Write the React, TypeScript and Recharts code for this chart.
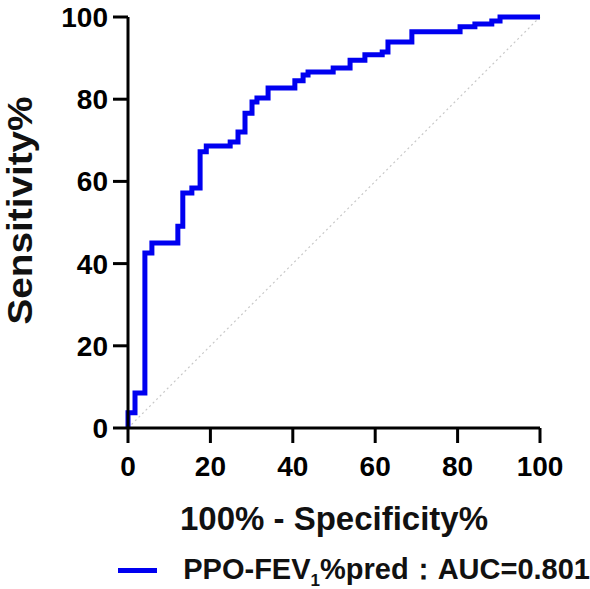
import React from 'react';
import { LineChart, Line, XAxis, YAxis, ReferenceLine, Legend } from 'recharts';

// ROC curve points: 100% - specificity (x) and sensitivity (y)
const fpr = [0, 0, 1.7, 4.1, 5.8, 12.1, 13.3, 15.5, 17.5, 19.0, 24.8, 26.7, 28.4, 30.1, 31.3, 34.0, 40.5, 42.5, 43.7, 49.8, 53.9, 57.5, 61.7, 63.1, 68.9, 80.6, 84.2, 88.3, 90.3, 100];
const tpr = [0, 3.7, 8.5, 42.6, 45.0, 49.1, 57.2, 58.4, 67.2, 68.6, 69.6, 72.0, 76.6, 79.3, 80.3, 82.7, 84.5, 85.9, 86.6, 87.6, 89.5, 90.8, 91.5, 93.9, 96.4, 97.6, 98.3, 99.0, 100, 100];
const axisTicks = [0, 20, 40, 60, 80, 100];
const seriesName = 'PPO-FEV1%pred';
const auc = '0.801';

const rocData = fpr.map((x, i) => ({ fpr: x, tpr: tpr[i] }));

const FONT = '"Liberation Sans", Arial, sans-serif';
const BLUE = '#0000f0';

const tickStyle = { fontSize: 28, fontWeight: 700, fill: '#000', fontFamily: FONT };

function LegendContent() {
  return (
    <div style={{ display: 'flex', alignItems: 'center', fontFamily: FONT, fontWeight: 700, fontSize: 29, color: '#111', whiteSpace: 'nowrap' }}>
      <span style={{ display: 'inline-block', width: 42, height: 5, background: BLUE, marginRight: 26 }} />
      <span>
        PPO-FEV<sub style={{ fontSize: 17 }}>1</sub>%pred：AUC={auc}
      </span>
    </div>
  );
}

export default function App() {
  return (
    <div style={{ position: 'absolute', left: 0, top: 0, width: 590, height: 589, background: '#fff', overflow: 'hidden' }}>
      <LineChart width={590} height={589} data={rocData} margin={{ top: 17, right: 50, left: 0, bottom: 0 }}>
        <XAxis
          dataKey="fpr"
          type="number"
          domain={[0, 100]}
          ticks={axisTicks}
          height={161}
          stroke="#000"
          strokeWidth={3}
          tickSize={15}
          tickMargin={13}
          tick={tickStyle}
          tickLine={{ stroke: '#000', strokeWidth: 3 }}
          label={({ viewBox }: any) => (
            <text
              x={viewBox.x + viewBox.width / 2}
              y={viewBox.y + 102}
              textAnchor="middle"
              fontSize={33}
              fontWeight={700}
              fontFamily={FONT}
              fill="#111"
            >
              100% - Specificity%
            </text>
          )}
        />
        <YAxis
          dataKey="tpr"
          type="number"
          domain={[0, 100]}
          ticks={axisTicks}
          width={128}
          stroke="#000"
          strokeWidth={3}
          tickSize={15}
          tickMargin={5}
          tick={tickStyle}
          tickLine={{ stroke: '#000', strokeWidth: 3 }}
          label={({ viewBox }: any) => {
            const cx = 32;
            const cy = viewBox.y + viewBox.height / 2 - 12;
            return (
              <text
                x={cx}
                y={cy}
                transform={`rotate(-90 ${cx} ${cy})`}
                textAnchor="middle"
                fontSize={35}
                fontWeight={700}
                fontFamily={FONT}
                fill="#111"
                textLength={228}
                lengthAdjust="spacingAndGlyphs"
              >
                Sensitivity%
              </text>
            );
          }}
        />
        <ReferenceLine
          segment={[{ x: 0, y: 0 }, { x: 100, y: 100 }]}
          stroke="#c8c8c8"
          strokeWidth={1.2}
          strokeDasharray="2 3"
        />
        <Line
          name={seriesName}
          type="stepAfter"
          dataKey="tpr"
          stroke={BLUE}
          strokeWidth={5}
          dot={false}
          isAnimationActive={false}
        />
        <Legend
          layout="horizontal"
          verticalAlign="middle"
          content={<LegendContent />}
          wrapperStyle={{ top: 550, left: 118, width: 472 }}
        />
      </LineChart>
    </div>
  );
}
